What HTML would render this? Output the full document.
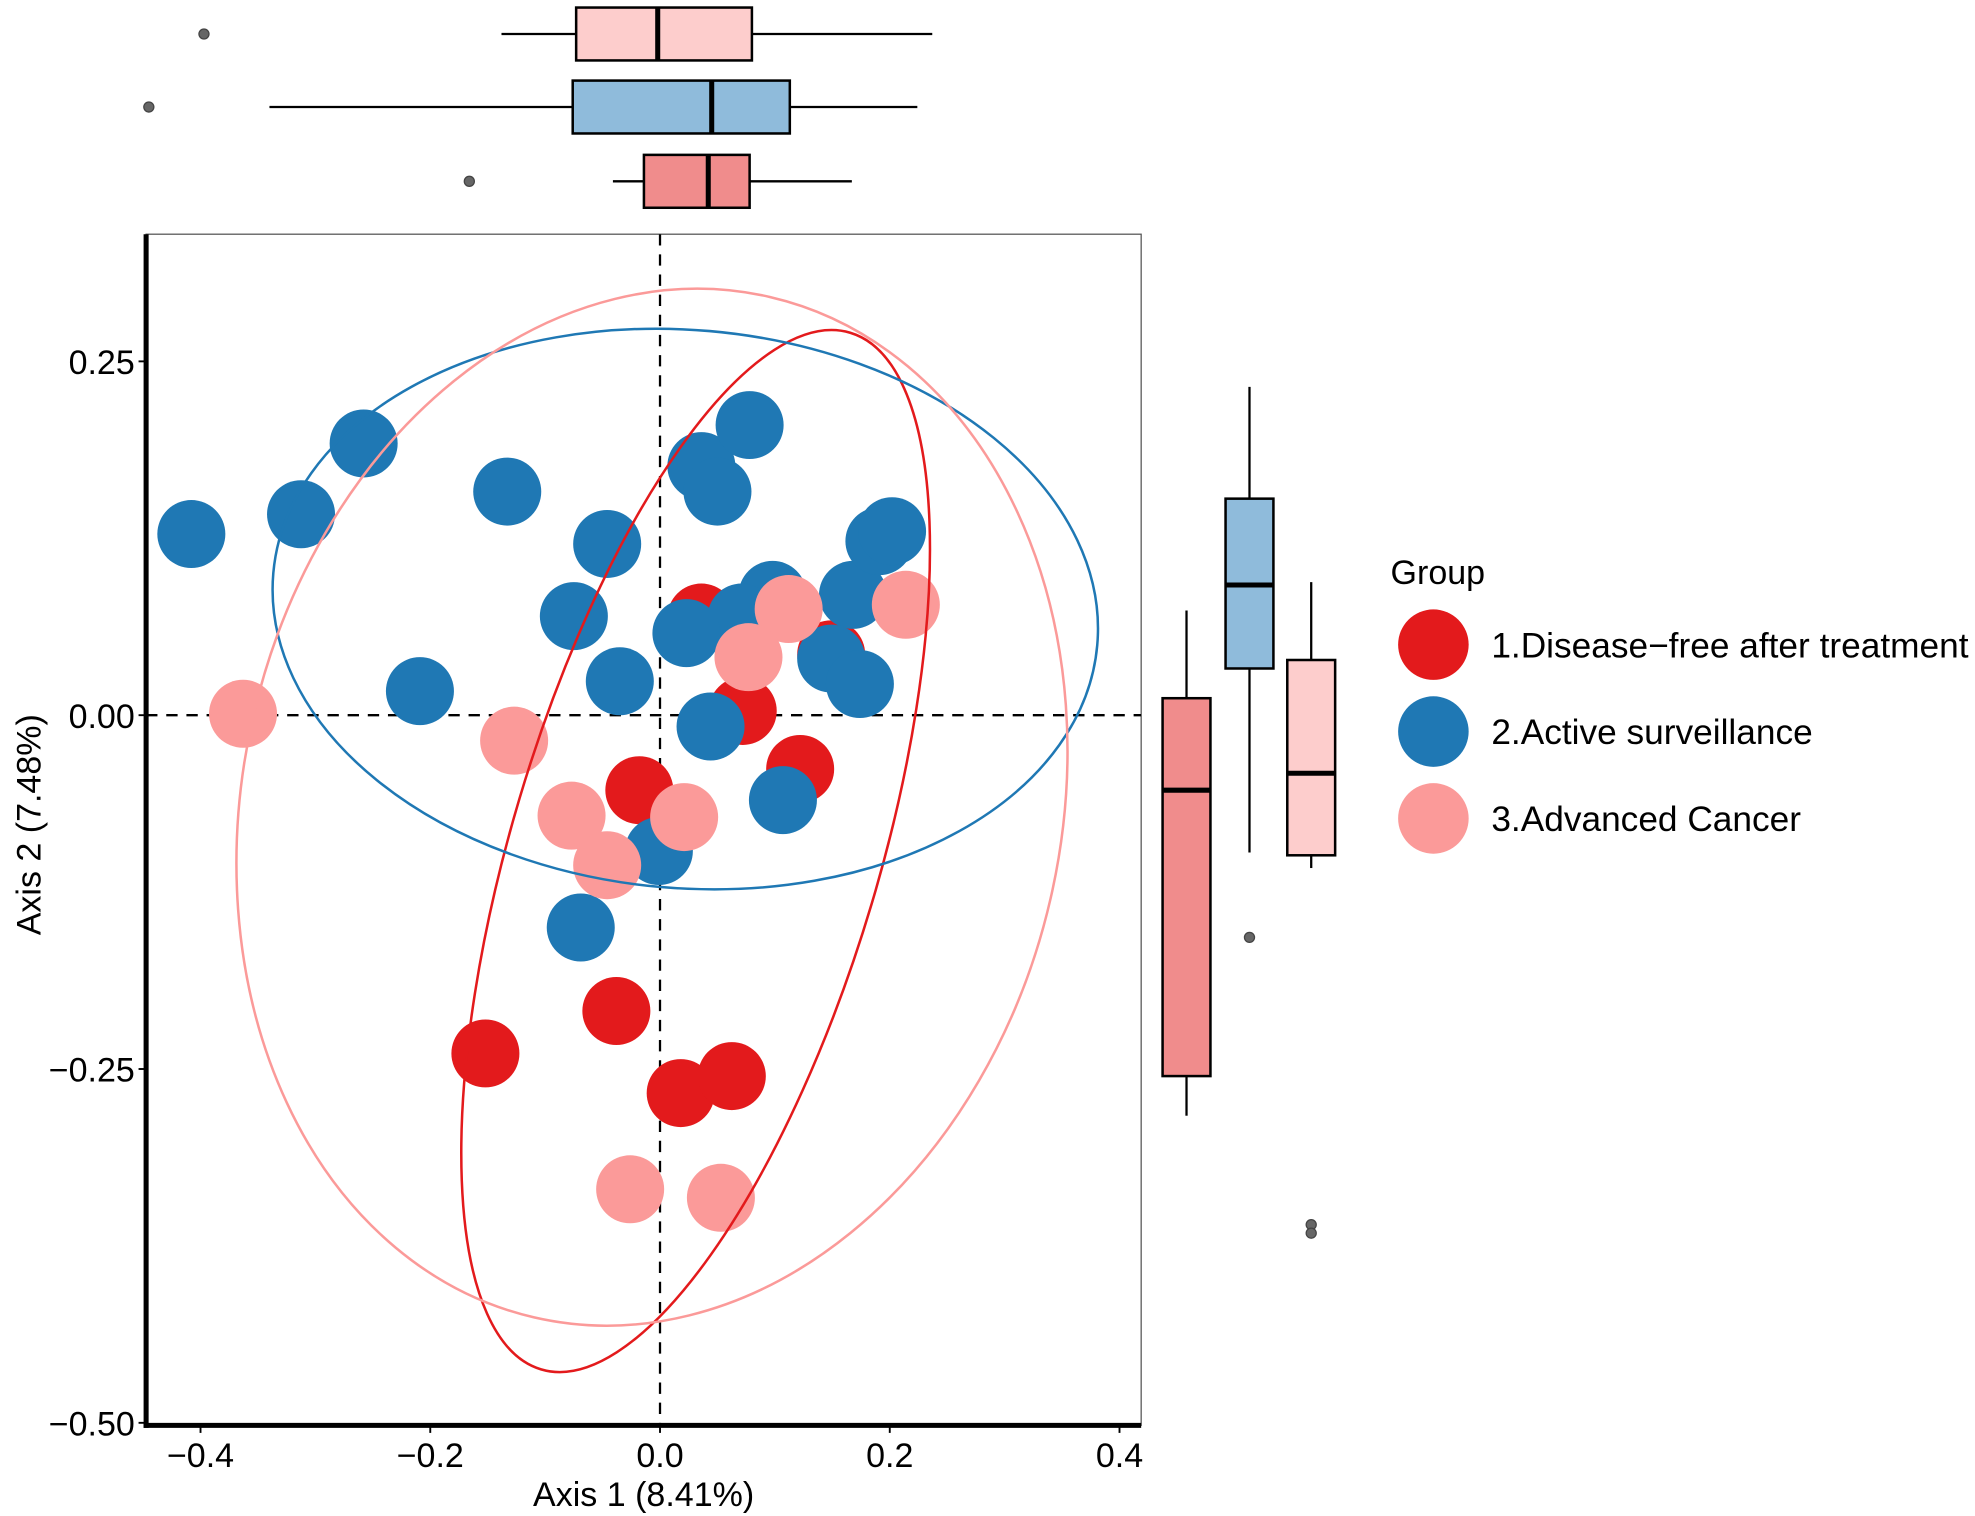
<!DOCTYPE html>
<html><head><meta charset="utf-8"><style>
html,body{margin:0;padding:0;background:#fff;}
svg{display:block;font-family:"Liberation Sans",sans-serif;}
</style></head><body>
<svg id="chart" width="1975" height="1516" viewBox="0 0 1568 1204" preserveAspectRatio="none" xmlns="http://www.w3.org/2000/svg">
<rect x="0" y="0" width="1568" height="1204" fill="#fff"/>
<g id="plot"></g>
</svg>
<script>
// ---- data ----
const groups = ["1.Disease\u2212free after treatment","2.Active surveillance","3.Advanced Cancer"];
const colors = ["#E31A1C","#1F78B4","#FB9A99"];
const boxFills = ["#F08C8C","#8FBBDB","#FDCDCC"];
const redX = [0.036,0.072,0.122,-0.018,-0.038,-0.152,0.018,0.0625,0.149];
const redY = [0.069,0.003,-0.038,-0.053,-0.209,-0.239,-0.267,-0.255,0.043];
const blueX = [-0.408,-0.3125,-0.258,-0.133,-0.046,-0.075,-0.209,-0.035,0.036,0.050,0.078,0.098,0.071,0.023,0.044,0.107,-0.001,-0.069,0.168,0.149,0.174,0.191,0.202];
const blueY = [0.128,0.142,0.192,0.158,0.121,0.070,0.017,0.024,0.176,0.158,0.205,0.085,0.069,0.058,-0.008,-0.060,-0.096,-0.150,0.085,0.040,0.022,0.123,0.130];
const pinkX = [-0.363,-0.127,-0.077,-0.046,0.021,0.112,0.077,0.214,-0.026,0.053];
const pinkY = [0.001,-0.018,-0.071,-0.106,-0.072,0.075,0.041,0.078,-0.335,-0.341];
// ellipse params: center (data), semi-axes (x-axis data units), rotation deg
const ellCx = [0.031,0.022,-0.007];
const ellCy = [-0.096,0.075,-0.065];
const ellA = [0.471,0.36,0.456];
const ellB = [0.160,0.243,0.356];
const ellRot = [-73.4,5,-77];
// marginal boxplots per group: [lowWhisker, q1, median, q3, highWhisker]
const topBox = [[-0.041,-0.014,0.042,0.078,0.167],[-0.340,-0.076,0.045,0.113,0.224],[-0.138,-0.073,-0.002,0.080,0.237]];
const topOut = [[-0.166],[-0.445],[-0.397]];
const rightBox = [[-0.283,-0.255,-0.053,0.012,0.074],[-0.097,0.033,0.092,0.153,0.232],[-0.108,-0.099,-0.041,0.039,0.094]];
const rightOut = [[],[-0.157],[-0.360,-0.366]];
const xTicks = [-0.4,-0.2,0.0,0.2,0.4];
const xTickLabels = ["\u22120.4","\u22120.2","0.0","0.2","0.4"];
const yTicks = [0.25,0.0,-0.25,-0.5];
const yTickLabels = ["0.25","0.00","\u22120.25","\u22120.50"];
// ---- scales ----
const PL=116,PR=906,PT=186,PB=1132;
const sx = v => 524 + v*912;
const sy = v => 568 - v*1124;
const NS="http://www.w3.org/2000/svg";
const g=document.getElementById('plot');
function mk(tag,attrs,parent){const e=document.createElementNS(NS,tag);for(const k in attrs)e.setAttribute(k,attrs[k]);(parent||g).appendChild(e);return e;}
// panel
const panel=mk('rect',{x:PL,y:PT,width:PR-PL,height:PB-PT,fill:'#fff',stroke:'#555','stroke-width':1});


const clip=mk('clipPath',{id:'pc'});mk('rect',{x:PL,y:PT,width:PR-PL,height:PB-PT},clip);
const inner=mk('g',{'clip-path':'url(#pc)'});
// reference lines
const vl=mk('line',{x1:sx(0),x2:sx(0),y1:PT,y2:PB,stroke:'#000','stroke-width':1.8,'stroke-dasharray':'9,7'},inner);


const hl=mk('line',{x1:PL,x2:PR,y1:sy(0),y2:sy(0),stroke:'#000','stroke-width':1.8,'stroke-dasharray':'9,7'},inner);


// points
const sets=[[redX,redY],[blueX,blueY],[pinkX,pinkY]];
sets.forEach((s,gi)=>{s[0].forEach((xv,i)=>{
  const c=mk('ellipse',{cx:sx(xv),cy:sy(s[1][i]),rx:27,ry:27,fill:colors[gi]},inner);
  
  
});});
// ellipses
[0,1,2].forEach(gi=>{
  const e=mk('ellipse',{cx:0,cy:0,rx:ellA[gi]*912,ry:ellB[gi]*912,fill:'none',stroke:colors[gi],'stroke-width':2,
    transform:`translate(${sx(ellCx[gi])},${sy(ellCy[gi])}) rotate(${ellRot[gi]})`},inner);
  
  
});
// axes
const ya=mk('line',{x1:PL,x2:PL,y1:PT,y2:PB+2,stroke:'#000','stroke-width':4});


const xa=mk('line',{x1:PL-2,x2:PR,y1:PB,y2:PB,stroke:'#000','stroke-width':4});


xTicks.forEach((v,i)=>{
  mk('line',{x1:sx(v),x2:sx(v),y1:PB,y2:PB+6,stroke:'#000','stroke-width':1.5});
  const t=mk('text',{x:sx(v),y:PB+33,'font-size':27,'text-anchor':'middle',fill:'#000'});
  t.textContent=xTickLabels[i];
  
  
});
yTicks.forEach((v,i)=>{
  mk('line',{x1:PL-6,x2:PL,y1:sy(v),y2:sy(v),stroke:'#000','stroke-width':1.5});
  const t=mk('text',{x:PL-9,y:sy(v)+10,'font-size':27,'text-anchor':'end',fill:'#000'});
  t.textContent=yTickLabels[i];
  
  
});
const xt=mk('text',{x:511,y:1196,'font-size':27,'text-anchor':'middle',fill:'#000'});
xt.textContent='Axis 1 (8.41%)';


const yt=mk('text',{x:0,y:0,'font-size':27,'text-anchor':'middle',fill:'#000',transform:'translate(32,655) rotate(-90)'});
yt.textContent='Axis 2 (7.48%)';


// top boxplots (rows from top: pink, blue, red)
const topRowY=[27,85,144], topOrder=[2,1,0];
topOrder.forEach((gi,r)=>{
  const b=topBox[gi], cy=topRowY[r], h=21;
  mk('line',{x1:sx(b[0]),x2:sx(b[1]),y1:cy,y2:cy,stroke:'#000','stroke-width':1.8});
  mk('line',{x1:sx(b[3]),x2:sx(b[4]),y1:cy,y2:cy,stroke:'#000','stroke-width':1.8});
  const rb=mk('rect',{x:sx(b[1]),y:cy-h,width:sx(b[3])-sx(b[1]),height:2*h,fill:boxFills[gi],stroke:'#000','stroke-width':2});
  
  
  mk('line',{x1:sx(b[2]),x2:sx(b[2]),y1:cy-h,y2:cy+h,stroke:'#000','stroke-width':4});
  topOut[gi].forEach(o=>{const c=mk('circle',{cx:sx(o),cy:cy,r:4,fill:'#666',stroke:'#444'});
    
    });
});
// right boxplots (red, blue, pink)
const rightX=[942,992,1041];
[0,1,2].forEach(gi=>{
  const b=rightBox[gi], cx=rightX[gi], w=19;
  mk('line',{x1:cx,x2:cx,y1:sy(b[0]),y2:sy(b[1]),stroke:'#000','stroke-width':1.8});
  mk('line',{x1:cx,x2:cx,y1:sy(b[3]),y2:sy(b[4]),stroke:'#000','stroke-width':1.8});
  const rb=mk('rect',{x:cx-w,y:sy(b[3]),width:2*w,height:sy(b[1])-sy(b[3]),fill:boxFills[gi],stroke:'#000','stroke-width':2});
  
  
  mk('line',{x1:cx-w,x2:cx+w,y1:sy(b[2]),y2:sy(b[2]),stroke:'#000','stroke-width':4});
  rightOut[gi].forEach(o=>{const c=mk('circle',{cx:cx,cy:sy(o),r:4,fill:'#666',stroke:'#444'});
    
    });
});
// legend
const lt=mk('text',{x:1104,y:464,'font-size':27,fill:'#000'});
lt.textContent='Group';


groups.forEach((name,i)=>{
  const cy=512+i*69;
  const c=mk('circle',{cx:1138,cy:cy,r:28,fill:colors[i]});
  
  
  const t=mk('text',{x:1184,y:cy+10,'font-size':28,fill:'#000'});
  t.textContent=name;
  
  
});
</script>
</body></html>
